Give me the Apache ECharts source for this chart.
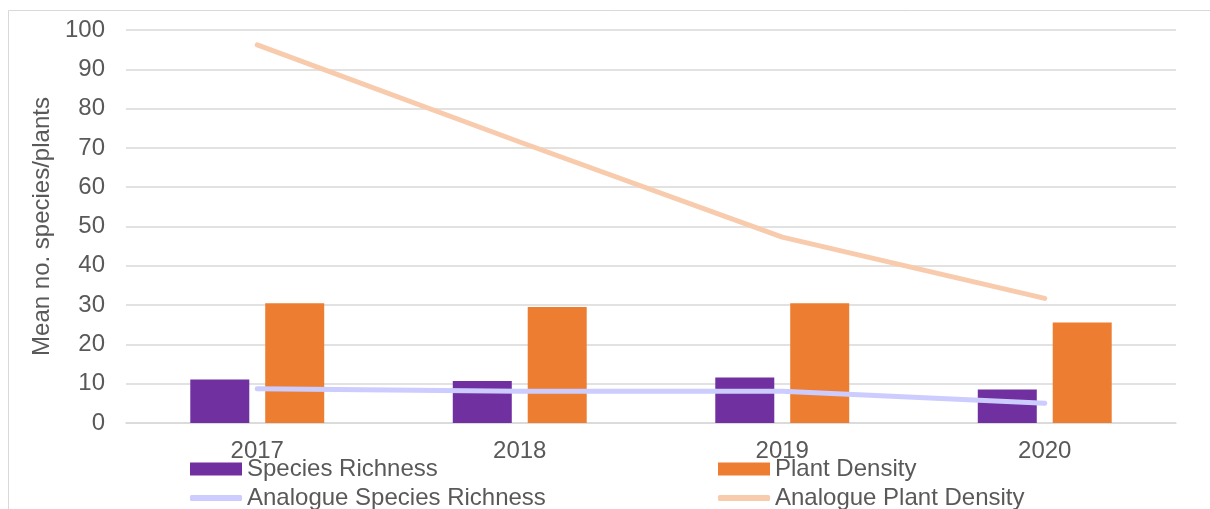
<!DOCTYPE html>
<html>
<head>
<meta charset="utf-8">
<script src="https://cdn.jsdelivr.net/npm/echarts@6/dist/echarts.min.js"></script>
<style>
  html, body { margin: 0; padding: 0; background: #fff; }
  #chart { width: 1210px; height: 509px; }
</style>
</head>
<body>
<div id="chart"></div>
<script>
// Survey years and mean counts per plot
const years = ['2017', '2018', '2019', '2020'];
const speciesRichness = [11.1, 10.7, 11.6, 8.5];
const plantDensity = [30.5, 29.5, 30.5, 25.6];
const analogueSpeciesRichness = [8.7, 8.1, 8.1, 5.0];
const analoguePlantDensity = [96.2, 71.5, 47.3, 31.7];
const yTicks = { min: 0, max: 100, step: 10 };

const FONT = '"Liberation Sans", Arial, sans-serif';
const TEXT = '#595959';
const GRID = '#d9d9d9';
const FS = 24;

const chart = echarts.init(document.getElementById('chart'), null, { renderer: 'canvas' });

function legendItem(name, left, top, icon, h) {
  return {
    data: [name],
    left: left,
    top: top,
    icon: icon,
    itemWidth: 52,
    itemHeight: h,
    padding: 0,
    selectedMode: false,
    textStyle: { fontFamily: FONT, fontSize: FS, color: TEXT, padding: [0, 0, 0, 0] }
  };
}

chart.setOption({
  animation: false,
  backgroundColor: '#fff',
  textStyle: { fontFamily: FONT },
  graphic: [{
    type: 'rect',
    shape: { x: 8.5, y: 10.5, width: 1300, height: 600 },
    style: { fill: 'none', stroke: GRID, lineWidth: 1 },
    silent: true
  }],
  grid: { left: 126, right: 34, top: 30, bottom: 86, containLabel: false },
  legend: [
    legendItem('Species Richness', 190, 457, 'rect', 13),
    legendItem('Plant Density', 718, 457, 'rect', 13),
    legendItem('Analogue Species Richness', 190, 486, 'roundRect', 6),
    legendItem('Analogue Plant Density', 718, 486, 'roundRect', 6)
  ],
  xAxis: {
    type: 'category',
    data: years,
    axisLine: { lineStyle: { color: GRID, width: 1.5 } },
    axisTick: { show: false },
    axisLabel: { fontFamily: FONT, fontSize: FS, color: TEXT, margin: 16 }
  },
  yAxis: {
    type: 'value',
    min: yTicks.min,
    max: yTicks.max,
    interval: yTicks.step,
    name: 'Mean no. species/plants',
    nameLocation: 'middle',
    nameGap: 70,
    nameTextStyle: { fontFamily: FONT, fontSize: FS, color: TEXT },
    axisLine: { show: false },
    axisTick: { show: false },
    axisLabel: { fontFamily: FONT, fontSize: FS, color: TEXT, margin: 21 },
    splitLine: { lineStyle: { color: GRID, width: 1.5 } }
  },
  series: [
    {
      name: 'Species Richness',
      type: 'bar',
      data: speciesRichness,
      barWidth: 59,
      barGap: '27%',
      itemStyle: { color: '#7030A0' }
    },
    {
      name: 'Plant Density',
      type: 'bar',
      data: plantDensity,
      barWidth: 59,
      barGap: '27%',
      itemStyle: { color: '#ED7D31' }
    },
    {
      name: 'Analogue Species Richness',
      type: 'line',
      data: analogueSpeciesRichness,
      symbol: 'none',
      itemStyle: { color: '#CCCCFF' },
      lineStyle: { color: '#CCCCFF', width: 5, cap: 'round', join: 'round' },
      z: 5
    },
    {
      name: 'Analogue Plant Density',
      type: 'line',
      data: analoguePlantDensity,
      symbol: 'none',
      itemStyle: { color: '#F8CBAD' },
      lineStyle: { color: '#F8CBAD', width: 5, cap: 'round', join: 'round' },
      z: 5
    }
  ]
});
</script>
</body>
</html>
